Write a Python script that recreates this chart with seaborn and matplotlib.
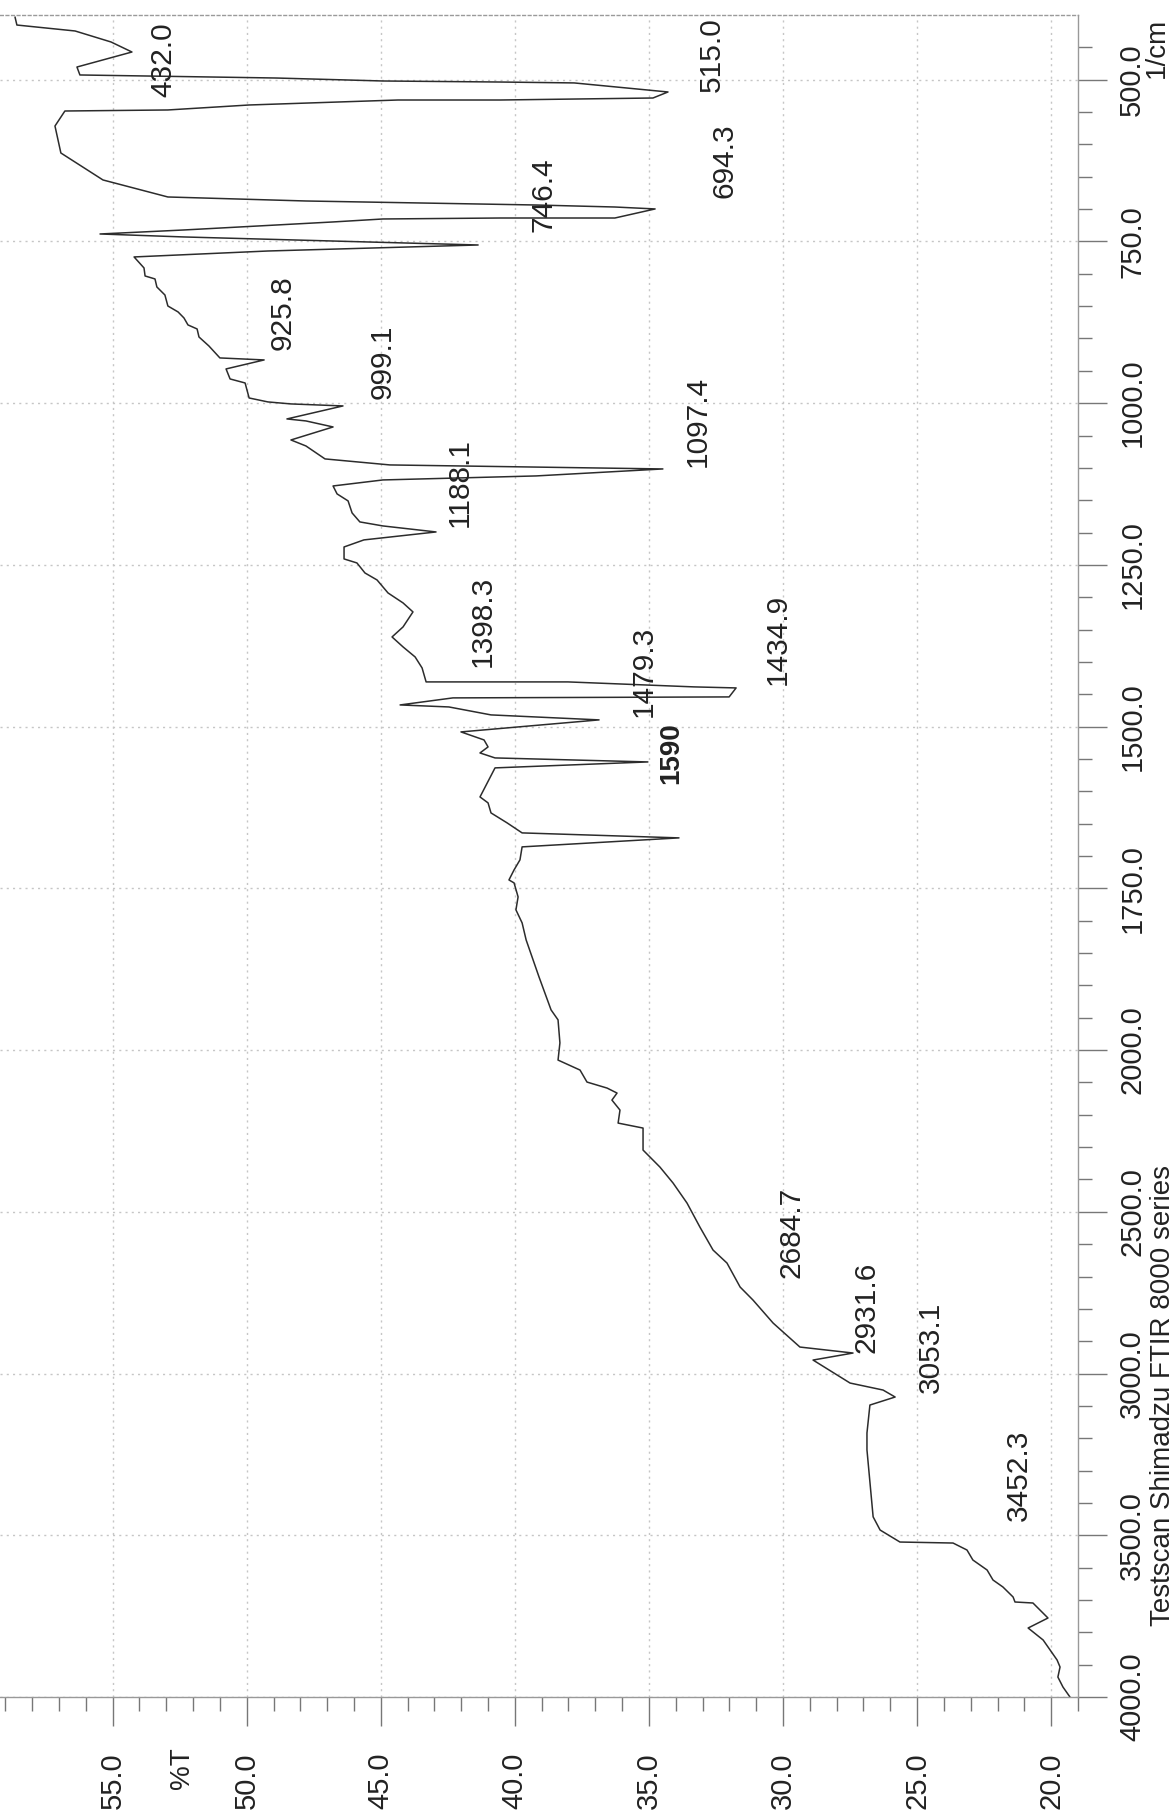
import numpy as np
import pandas as pd
import matplotlib
matplotlib.use("Agg")
import matplotlib.pyplot as plt
import seaborn as sns

# FTIR trace: wavenumber (1/cm) and transmittance (%T), in scan order
wavenumber = [
    403.1, 415.5, 424.7, 441.7, 457.2, 480.4, 492.7, 497.4, 502.0, 503.6,
    505.0, 519.0, 528.3, 531.4, 531.4, 539.1, 546.8, 548.4, 571.6, 613.3,
    655.0, 681.3, 687.5, 693.7, 696.8, 699.8, 713.8, 713.8, 715.3, 719.9,
    732.3, 738.5, 743.1, 755.5, 764.8, 774.0, 791.0, 803.4, 808.0, 820.4,
    832.8, 849.8, 859.0, 868.3, 879.1, 885.3, 897.7, 911.6, 930.1, 933.2,
    947.1, 962.6, 968.8, 992.0, 998.1, 1001.2, 1004.3, 1024.4, 1027.5, 1036.8,
    1056.9, 1066.2, 1086.2, 1095.5, 1101.7, 1112.5, 1118.7, 1128.0, 1140.3, 1151.1,
    1169.7, 1183.6, 1189.8, 1199.1, 1211.4, 1222.3, 1240.8, 1247.0, 1262.5, 1273.3,
    1293.4, 1308.8, 1322.7, 1345.9, 1361.4, 1376.8, 1392.3, 1409.3, 1430.9, 1430.9,
    1438.6, 1440.2, 1454.1, 1455.6, 1466.5, 1469.6, 1481.9, 1489.6, 1494.3, 1508.2,
    1520.6, 1531.4, 1540.7, 1548.4, 1554.6, 1563.8, 1608.7, 1617.9, 1633.4, 1648.8,
    1664.3, 1672.0, 1685.9, 1706.0, 1721.5, 1737.0, 1741.6, 1763.2, 1783.3, 1803.4,
    1829.7, 1855.9, 1886.9, 1911.6, 1937.9, 1953.3, 1988.9, 2030.9, 2061.8, 2098.9,
    2117.5, 2132.9, 2154.6, 2185.5, 2225.7, 2241.1, 2309.1, 2361.7, 2411.1, 2473.0,
    2547.1, 2618.2, 2658.4, 2732.6, 2772.8, 2843.9, 2918.1, 2936.6, 2958.3, 3029.4,
    3051.0, 3072.6, 3097.4, 3183.9, 3236.0, 3443.0, 3483.8, 3520.9, 3524.0, 3545.6,
    3576.5, 3607.4, 3638.3, 3659.9, 3690.9, 3706.3, 3709.4, 3755.8, 3786.7, 3823.8,
    3854.7, 3885.6, 3907.3, 3938.4, 3969.3, 4000.0,
]
transmittance = [
    58.64, 58.57, 56.40, 55.06, 54.28, 56.33, 56.22, 48.91, 44.92, 40.55,
    37.79, 34.29, 34.85, 40.55, 44.36, 49.91, 52.94, 56.78, 57.15, 56.93,
    55.36, 52.94, 47.79, 39.21, 36.27, 34.77, 36.27, 40.55, 44.92, 46.78,
    52.34, 55.47, 52.34, 41.37, 49.21, 54.20, 53.83, 53.79, 53.42, 53.35,
    53.05, 52.94, 52.56, 52.34, 52.19, 51.85, 51.78, 51.41, 51.00, 49.35,
    50.77, 50.62, 50.06, 49.91, 49.21, 48.35, 46.41, 48.50, 47.79, 46.78,
    48.35, 47.79, 47.08, 44.66, 34.48, 39.21, 44.92, 46.78, 46.63, 46.22,
    46.07, 45.78, 44.92, 42.94, 45.63, 46.37, 46.37, 45.89, 45.59, 45.14,
    44.73, 44.17, 43.80, 44.17, 44.58, 44.17, 43.72, 43.46, 43.31, 38.02,
    33.32, 31.75, 32.01, 42.31, 44.28, 42.46, 40.89, 36.86, 38.17, 42.01,
    41.15, 41.00, 41.30, 40.74, 35.04, 40.74, 41.30, 41.00, 40.89, 40.29,
    39.73, 33.88, 39.73, 39.81, 40.03, 40.22, 40.03, 39.88, 39.96, 39.73,
    39.58, 39.36, 39.10, 38.88, 38.65, 38.39, 38.32, 38.39, 37.57, 37.31,
    36.56, 36.19, 36.38, 36.08, 36.15, 35.22, 35.22, 34.59, 34.10, 33.58,
    33.10, 32.61, 32.09, 31.60, 31.12, 30.37, 29.37, 27.39, 28.88, 27.50,
    26.27, 25.82, 26.76, 26.87, 26.87, 26.64, 26.38, 25.64, 23.66, 23.14,
    22.92, 22.39, 22.17, 21.80, 21.42, 21.35, 20.68, 20.12, 20.86, 20.30,
    20.04, 19.78, 19.67, 19.75, 19.56, 19.30,
]

# Peak annotations and where each label sits (%T, 1/cm)
peak_labels = ["432.0", "515.0", "694.3", "746.4", "925.8", "999.1", "1097.4",
               "1188.1", "1398.3", "1479.3", "1434.9", "1590", "2684.7",
               "2931.6", "3053.1", "3452.3"]
label_pct = [53.12, 32.65, 32.20, 38.95, 48.65, 44.95, 33.17, 42.05, 41.19,
             35.18, 30.19, 34.18, 29.70, 26.87, 24.48, 21.20]
label_wn = [469.6, 461.8, 625.7, 678.2, 860.6, 936.3, 1029.0, 1123.3, 1336.6,
            1413.9, 1366.0, 1540.7, 2562.6, 2794.4, 2918.1, 3313.8]

pct_ticks = [20, 25, 30, 35, 40, 45, 50, 55]
wn_ticks = [500, 750, 1000, 1250, 1500, 1750, 2000, 2500, 3000, 3500, 4000]

sns.set_theme(style="white")
plt.rcParams["font.family"] = ["Liberation Sans", "DejaVu Sans"]

W, H = 1174, 1814
fig = plt.figure(figsize=(W / 100, H / 100), dpi=100)
ax = fig.add_axes([0.0, 117 / H, 1078 / W, (1697 - 15) / H])


# Wavenumber axis: the range above 2000 1/cm is compressed by a factor of two
def fwd(w):
    w = np.asarray(w, dtype=float)
    return np.where(w <= 2000, w, 2000 + (w - 2000) / 2.0)


def inv(v):
    v = np.asarray(v, dtype=float)
    return np.where(v <= 2000, v, 2000 + (v - 2000) * 2.0)


df = pd.DataFrame({"pct": transmittance, "wn": wavenumber})
sns.lineplot(data=df, x="pct", y="wn", sort=False, estimator=None, orient="y",
             color="#2c2c2c", linewidth=1.1, ax=ax)

ax.set_yscale("function", functions=(fwd, inv))
ax.set_ylim(4000, 400)
ax.set_xlim(59.2, 19.0)
ax.set_xlabel("")
ax.set_ylabel("")

# right-hand wavenumber axis
ax.yaxis.tick_right()
ax.set_yticks(wn_ticks)
ax.set_yticklabels([f"{v:.1f}" for v in wn_ticks])
wn_minor = [v for v in list(range(450, 2000, 50)) + list(range(2100, 4000, 100))
            if v not in wn_ticks]
ax.set_yticks(wn_minor, minor=True)

# bottom transmittance axis
ax.set_xticks(pct_ticks)
ax.set_xticklabels([f"{v:.1f}" for v in pct_ticks])
ax.set_xticks([v for v in range(19, 60) if v % 5], minor=True)

tick_col = "#777777"
ax.tick_params(axis="both", which="both", direction="out", color=tick_col,
               width=1.0, labelcolor="#222222", labelsize=21)
ax.tick_params(axis="y", which="both", left=False, right=True,
               labelleft=False, labelright=True)
ax.tick_params(axis="x", which="both", bottom=True, top=False)
ax.tick_params(axis="both", which="major", length=21)
ax.tick_params(axis="both", which="minor", length=10)
ax.tick_params(axis="y", which="major", pad=8, labelrotation=90)
ax.tick_params(axis="x", which="major", pad=19, labelrotation=90)
for lbl in ax.get_yticklabels():
    lbl.set_va("center")
    lbl.set_ha("left")

ax.grid(True, which="major", axis="both", color="#c6c6c6",
        linestyle=(0, (1.5, 3)), linewidth=1.0)
ax.set_axisbelow(True)

ax.spines["left"].set_visible(False)
ax.spines["top"].set_color("#9a9a9a")
ax.spines["top"].set_linestyle((0, (2, 2)))
ax.spines["top"].set_linewidth(1.0)
for side in ("right", "bottom"):
    ax.spines[side].set_color("#999999")
    ax.spines[side].set_linewidth(1.0)

for txt, px, wn in zip(peak_labels, label_pct, label_wn):
    bold = txt == "1590"
    ax.text(px, wn, txt, rotation=90, ha="center", va="center",
            fontsize=20 if bold else 21.5, color="#222222",
            fontweight="bold" if bold else "normal")

fig.text(182 / W, 1 - 1768 / H, "%T", rotation=90, ha="center", va="center",
         fontsize=20, color="#222222")
fig.text(1144 / W, 1 - 48 / H, "1/cm", rotation=90, ha="left", va="center",
         fontsize=20, color="#222222")
fig.text(1150 / W, 1 - 1395 / H, "Testscan Shimadzu FTIR 8000 series",
         rotation=90, ha="left", va="center", fontsize=20, color="#222222")

fig.savefig("out.png", dpi=100, facecolor="white")
